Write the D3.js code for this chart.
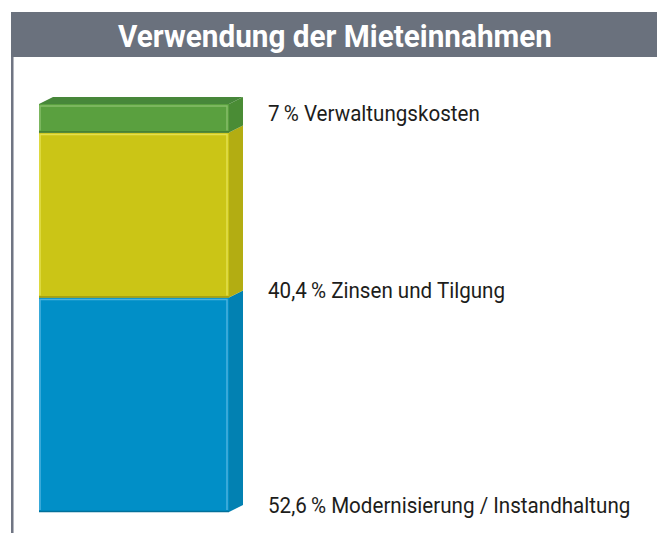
<!DOCTYPE html>
<html>
<head>
<meta charset="utf-8">
<script src="https://cdn.jsdelivr.net/npm/d3@7"></script>
<style>
  body { margin: 0; background: #fff; }
  svg { display: block; }
</style>
</head>
<body>
<svg></svg>
<script>
const width = 657;
const height = 533;
let svg = d3.select("svg").attr("width", width).attr("height", height);

// data, bottom to top
const categories = ["Modernisierung / Instandhaltung", "Zinsen und Tilgung", "Verwaltungskosten"];
const shares = [52.6, 40.4, 7];
const shareLabels = ["52,6\u2009%", "40,4\u2009%", "7\u2009%"];
const title = "Verwendung der Mieteinnahmen";

const fronts = ["#018fc7", "#cbc516", "#5aa03f"];
const sides = ["#0281b2", "#b3ad12", "#4a8c35"];
const tops = ["#0a7fb0", "#b8b216", "#47873a"];
const lights = ["#4bb3e0", "#e3df4e", "#86bd6a"];

const font = "Roboto, 'Noto Sans', sans-serif";

// squeeze a text horizontally around its anchor so it looks like a condensed face
function condense(sel, k, ax) {
  sel.attr("transform", `translate(${ax},0) scale(${k},1) translate(${-ax},0)`);
}

// title bar
svg.append("rect").attr("x", 11).attr("y", 12).attr("width", width - 11).attr("height", 45).attr("fill", "#6a717d");
let titleText = svg.append("text").attr("x", 335).attr("y", 47).attr("text-anchor", "middle")
  .attr("font-family", font).attr("font-weight", "bold").attr("font-size", 31).attr("fill", "#fff")
  .text(title);
condense(titleText, 434 / titleText.node().getComputedTextLength(), 335);

// left rule
svg.append("rect").attr("x", 11).attr("y", 57).attr("width", 2).attr("height", height - 57).attr("fill", "#707583");
svg.append("rect").attr("x", 13).attr("y", 57).attr("width", 1).attr("height", height - 57).attr("fill", "#b4b7bf");

// stacked column
const x0 = 39, x1 = 229, dx = 14, dy = -7;
const y = d3.scaleLinear().domain([0, d3.sum(shares)]).range([512, 104]);

let acc = 0;
const stack = shares.map((v, i) => {
  const d = { i, v, lo: acc, hi: acc + v, cat: categories[i], lab: shareLabels[i] };
  acc += v;
  return d;
});

const seg = svg.append("g").selectAll("g").data(stack).join("g");

// side face
seg.append("path").attr("fill", d => sides[d.i])
  .attr("d", d => {
    const yt = y(d.hi), yb = y(d.lo);
    return `M${x1},${yt}L${x1 + dx},${yt + dy}L${x1 + dx},${yb + dy}L${x1},${yb}Z`;
  });

// front face
seg.append("rect").attr("x", x0).attr("width", x1 - x0)
  .attr("y", d => y(d.hi)).attr("height", d => y(d.lo) - y(d.hi))
  .attr("fill", d => fronts[d.i]);

// light edges on front face
seg.append("path").attr("fill", "none").attr("stroke", d => lights[d.i]).attr("stroke-width", 1.5)
  .attr("d", d => {
    const yt = y(d.hi) + 2, yb = y(d.lo) - 2;
    return `M${x0 + 1},${yb}L${x0 + 1},${yt}L${x1 - 2},${yt}L${x1 - 2},${yb}`;
  });
seg.append("line").attr("x1", x0).attr("x2", x1)
  .attr("y1", d => y(d.lo) - 0.5).attr("y2", d => y(d.lo) - 0.5)
  .attr("stroke", d => d3.color(sides[d.i]).darker(0.4)).attr("stroke-width", 1.5);

// top face
const topSeg = stack[stack.length - 1];
svg.append("path").attr("fill", tops[topSeg.i])
  .attr("d", `M${x0},${y(topSeg.hi)}L${x0 + dx},${y(topSeg.hi) + dy}L${x1 + dx},${y(topSeg.hi) + dy}L${x1},${y(topSeg.hi)}Z`);

// labels
let labels = svg.append("g").selectAll("text").data(stack).join("text")
  .attr("x", 268)
  .attr("y", d => d.i === 2 ? y(d.hi) + 17 : y(d.lo) + 1)
  .attr("font-family", font)
  .attr("font-size", 22).attr("fill", "#1d1d1b")
  .text(d => `${d.lab} ${d.cat}`);
const k = 212 / labels.filter(d => d.i === 2).node().getComputedTextLength();
condense(labels, k, 268);
</script>
</body>
</html>
